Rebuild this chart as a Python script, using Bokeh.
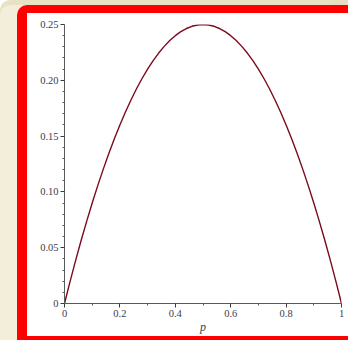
from bokeh.plotting import figure
from bokeh.models import Range1d, FixedTicker
from bokeh.embed import file_html
from bokeh.resources import INLINE

# data
p_vals = [0, 0.02, 0.04, 0.06, 0.08, 0.1, 0.12, 0.14, 0.16, 0.18, 0.2,
          0.22, 0.24, 0.26, 0.28, 0.3, 0.32, 0.34, 0.36, 0.38, 0.4,
          0.42, 0.44, 0.46, 0.48, 0.5, 0.52, 0.54, 0.56, 0.58, 0.6,
          0.62, 0.64, 0.66, 0.68, 0.7, 0.72, 0.74, 0.76, 0.78, 0.8,
          0.82, 0.84, 0.86, 0.88, 0.9, 0.92, 0.94, 0.96, 0.98, 1.0]
y_vals = [0, 0.0196, 0.0384, 0.0564, 0.0736, 0.09, 0.1056, 0.1204, 0.1344, 0.1476, 0.16,
          0.1716, 0.1824, 0.1924, 0.2016, 0.21, 0.2176, 0.2244, 0.2304, 0.2356, 0.24,
          0.2436, 0.2464, 0.2484, 0.2496, 0.25, 0.2496, 0.2484, 0.2464, 0.2436, 0.24,
          0.2356, 0.2304, 0.2244, 0.2176, 0.21, 0.2016, 0.1924, 0.1824, 0.1716, 0.16,
          0.1476, 0.1344, 0.1204, 0.1056, 0.09, 0.0736, 0.0564, 0.0384, 0.0196, 0]

x_ticks = [0, 0.2, 0.4, 0.6, 0.8, 1.0]
x_tick_labels = ["0", "0.2", "0.4", "0.6", "0.8", "1"]
x_minor = [0.1, 0.3, 0.5, 0.7, 0.9]
y_ticks = [0, 0.05, 0.1, 0.15, 0.2, 0.25]
y_tick_labels = ["0", "0.05", "0.10", "0.15", "0.20", "0.25"]
y_minor = [0.01, 0.02, 0.03, 0.04, 0.06, 0.07, 0.08, 0.09, 0.11, 0.12, 0.13, 0.14,
           0.16, 0.17, 0.18, 0.19, 0.21, 0.22, 0.23, 0.24]

W, H = 331, 335
p = figure(width=W, height=H, output_backend="svg", toolbar_location=None,
           x_range=Range1d(0, 1), y_range=Range1d(0, 0.25),
           min_border_left=37, min_border_right=17, min_border_top=11, min_border_bottom=45)
p.border_fill_color = "white"
p.background_fill_color = "white"
p.outline_line_color = None
p.xgrid.visible = False
p.ygrid.visible = False

# red frame and beige backdrop via CSS on the figure element
p.styles = {
    "margin-left": "17px",
    "margin-top": "5px",
    "border-left": "10px solid #ff0000",
    "border-top": "8px solid #ff0000",
    "border-bottom": "4px solid #ff0000",
    "border-right": "0px none",
    "border-top-left-radius": "10px",
    "background-color": "white",
    "box-shadow": "-17px 0px 0px 0px #f2eed9, -17px -5px 0px 0px #e8e2c5, 0px -5px 0px 0px #e6dfc1",
}

p.line(p_vals, y_vals, line_color="#7a0a1c", line_width=1.4)

font = "Liberation Serif"
for ax in (p.xaxis[0], p.yaxis[0]):
    ax.axis_line_color = "#5a5a5a"
    ax.major_tick_line_color = "#3a3a3a"
    ax.minor_tick_line_color = "#5a5a5a"
    ax.major_tick_in = 0
    ax.minor_tick_in = 0
    ax.major_tick_out = 4
    ax.minor_tick_out = 2
    ax.major_label_text_font = font
    ax.major_label_text_font_size = "10.5px"
    ax.major_label_text_color = "#3c3c48"

p.xaxis.ticker = FixedTicker(ticks=x_ticks, minor_ticks=x_minor)
p.yaxis.ticker = FixedTicker(ticks=y_ticks, minor_ticks=y_minor)
p.xaxis.major_label_overrides = {t: s for t, s in zip(x_ticks, x_tick_labels)}
p.yaxis.major_label_overrides = {t: s for t, s in zip(y_ticks, y_tick_labels)}
p.xaxis.major_label_standoff = 2
p.yaxis.major_label_standoff = 2

p.xaxis.axis_label = "p"
p.xaxis.axis_label_text_font = font
p.xaxis.axis_label_text_font_style = "italic"
p.xaxis.axis_label_text_font_size = "12px"
p.xaxis.axis_label_text_color = "#3c3c48"
p.xaxis.axis_label_standoff = 0

open("out.html", "w").write(file_html(p, INLINE))
